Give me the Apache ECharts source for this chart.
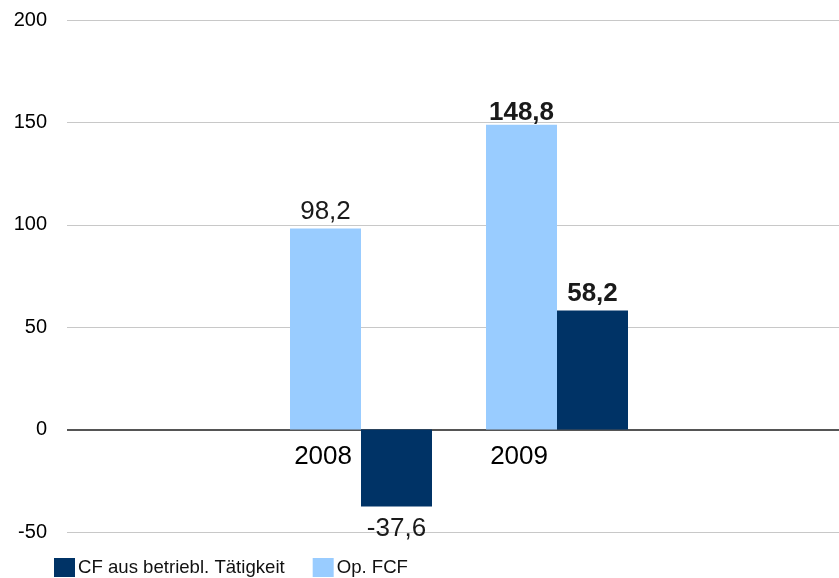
<!DOCTYPE html>
<html>
<head>
<meta charset="utf-8">
<script src="https://cdn.jsdelivr.net/npm/echarts@6/dist/echarts.min.js"></script>
<style>
html,body{margin:0;padding:0;background:#fff;}
#chart{width:839px;height:578px;}
</style>
</head>
<body>
<div id="chart"></div>
<script>
var categories = ['', '2008', '2009', ''];
var opFcf = [null, 98.2, 148.8, null];
var cfBetrieb = [null, -37.6, 58.2, null];
var boldLabels = [false, false, true, false];
var yTicks = { min: -50, max: 200, interval: 50 };
var seriesNames = ['Op. FCF', 'CF aus betriebl. Tätigkeit'];
var legendOrder = ['CF aus betriebl. Tätigkeit', 'Op. FCF'];

var FONT = '"Liberation Sans", Arial, Helvetica, sans-serif';

function fmt(p) { return String(p.value).replace('.', ','); }

function buildData(arr, tightTop) {
  return arr.map(function (v, i) {
    if (v === null) return null;
    var dist = v < 0 ? 9 : 4;
    if (tightTop && v >= 140) dist = -1;
    return {
      value: v,
      label: {
        fontWeight: boldLabels[i] ? 'bold' : 'normal',
        position: v < 0 ? 'bottom' : 'top',
        distance: dist
      }
    };
  });
}

var chart = echarts.init(document.getElementById('chart'), null, { renderer: 'canvas' });
chart.setOption({
  animation: false,
  textStyle: { fontFamily: FONT },
  grid: { left: 67, top: 20, width: 784, height: 512, containLabel: false, outerBoundsMode: 'none' },
  legend: {
    data: legendOrder,
    left: 54, top: 558,
    padding: 0,
    itemWidth: 21, itemHeight: 19, itemGap: 28,
    icon: 'rect',
    textStyle: { fontSize: 18.6, color: '#111', fontFamily: FONT, padding: [0, 0, 0, -2] }
  },
  xAxis: {
    type: 'category',
    data: categories,
    axisLine: { show: false, onZero: false },
    axisTick: { show: false },
    axisLabel: {
      fontSize: 26, color: '#000', fontFamily: FONT,
      align: 'right', padding: [0, 9, 0, 0], margin: -88,
      interval: 0
    },
    splitLine: { show: false }
  },
  yAxis: {
    type: 'value',
    min: yTicks.min, max: yTicks.max, interval: yTicks.interval,
    axisLine: { show: false },
    axisTick: { show: false },
    axisLabel: { fontSize: 20, color: '#000', margin: 20, fontFamily: FONT },
    splitLine: { lineStyle: { color: '#c8c8c8', width: 1.2 } }
  },
  series: [
    {
      name: seriesNames[0], type: 'bar', data: buildData(opFcf, true),
      barWidth: 71, barGap: '0%', z: 3,
      itemStyle: { color: '#99ccff' },
      label: { show: true, fontSize: 26, color: '#1a1a1a', fontFamily: FONT, formatter: fmt },
      markLine: {
        silent: true, symbol: 'none', z: 1,
        label: { show: false },
        lineStyle: { color: '#555', width: 1.8, type: 'solid' },
        data: [{ yAxis: 0 }]
      }
    },
    {
      name: seriesNames[1], type: 'bar', data: buildData(cfBetrieb, false),
      barWidth: 71, barGap: '0%', z: 3,
      itemStyle: { color: '#003366' },
      label: { show: true, fontSize: 26, color: '#1a1a1a', fontFamily: FONT, formatter: fmt }
    }
  ]
});
</script>
</body>
</html>
